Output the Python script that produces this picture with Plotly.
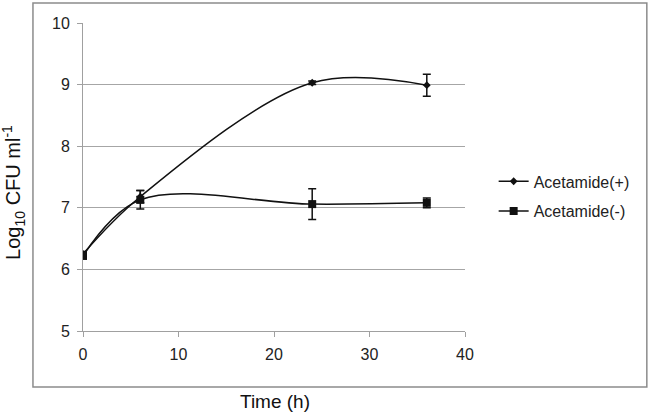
import plotly.graph_objects as go

time_h = [0, 6, 24, 36]
plus_vals = [6.25, 7.18, 9.03, 8.99]
plus_err = [0.04, 0.10, 0.03, 0.18]
minus_vals = [6.22, 7.13, 7.06, 7.08]
minus_err = [0.05, 0.15, 0.25, 0.08]
names = ["Acetamide(+)", "Acetamide(-)"]

fig = go.Figure()
fig.add_trace(go.Scatter(
    x=time_h, y=plus_vals, name=names[0], mode="lines+markers", legendgroup="p",
    line=dict(color="#111111", width=1.5, shape="spline", smoothing=1.0),
    marker=dict(symbol="diamond", size=6, color="#111111"),
    error_y=dict(type="data", array=plus_err, color="#111111", thickness=1.5, width=4),
))
fig.add_trace(go.Scatter(
    x=time_h, y=minus_vals, name=names[1], mode="lines+markers", legendgroup="m",
    line=dict(color="#111111", width=1.5, shape="spline", smoothing=1.0),
    marker=dict(symbol="square", size=8, color="#111111"),
    error_y=dict(type="data", array=minus_err, color="#111111", thickness=1.5, width=4),
))

font_family = "Liberation Sans, Arial, sans-serif"
fig.update_layout(
    width=650, height=417,
    margin=dict(l=83, r=185, t=23, b=86),
    paper_bgcolor="white", plot_bgcolor="white",
    font=dict(family=font_family, color="#222222", size=16),
    showlegend=True,
    legend=dict(x=1.075, y=0.541, xanchor="left", yanchor="top",
                font=dict(size=16, color="#222222"), itemwidth=30,
                tracegroupgap=6, bgcolor="rgba(0,0,0,0)"),
    xaxis=dict(range=[0, 40], tickvals=[0, 10, 20, 30, 40], showgrid=False,
               showline=True, linecolor="#a0a0a0", linewidth=1,
               ticks="outside", ticklen=5, tickcolor="#a0a0a0",
               ticklabelstandoff=4,
               zeroline=False, tickfont=dict(size=16)),
    yaxis=dict(range=[5, 10], tickvals=[5, 6, 7, 8, 9, 10], showgrid=True,
               gridcolor="#a6a6a6", gridwidth=1,
               showline=True, linecolor="#a0a0a0", linewidth=1,
               ticks="outside", ticklen=5, tickcolor="#a0a0a0",
               ticklabelstandoff=4,
               zeroline=False, tickfont=dict(size=16)),
    shapes=[dict(type="rect", xref="paper", yref="paper",
                 x0=-0.131, x1=1.476, y0=-0.182, y1=1.065,
                 line=dict(color="#8c8c8c", width=1.5), layer="below")],
    annotations=[
        dict(text="Time (h)", xref="paper", yref="paper", x=0.503, y=-0.23,
             xanchor="center", yanchor="middle", showarrow=False,
             font=dict(size=19, color="#111111")),
        dict(text="Log<sub>10</sub> CFU ml<sup>-1</sup>", xref="paper", yref="paper",
             x=-0.182, y=0.45, textangle=-90, xanchor="center", yanchor="middle",
             showarrow=False, font=dict(size=20, color="#111111")),
    ],
)
# remove the default 8px page margin so the figure fills the window exactly
fig.write_html("out.html", config={"displayModeBar": False},
               post_script="document.body.style.margin='0';")
